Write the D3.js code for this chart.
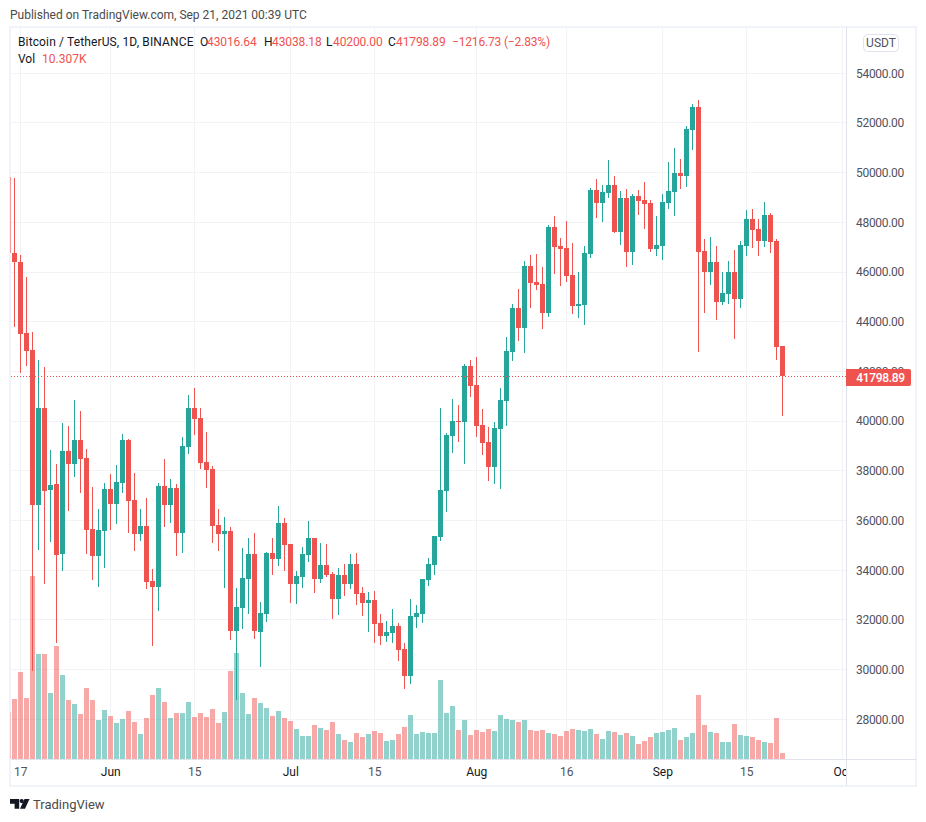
<!DOCTYPE html>
<html><head><meta charset="utf-8">
<script src="https://cdnjs.cloudflare.com/ajax/libs/d3/7.8.5/d3.min.js"></script>
<style>html,body{margin:0;padding:0;background:#fff}svg{display:block}text{font-family:Roboto,sans-serif}</style>
</head><body><div id="c"></div>
<script>
const startDate = "2021-05-15";
const opens = [49829,46770,46408,43550,42866,36627,40531,37231,37472,34654,38801,38277,39243,38519,35661,34574,35581,37271,36667,37513,39243,36828,35460,35782,33568,33327,37392,36627,37311,35500,38962,40531,40129,38358,38076,35822,35460,35581,31556,32481,33649,34654,31516,32240,34695,34453,35903,35057,33447,33729,34614,35299,33649,34212,33850,32844,33810,33447,34252,33085,32682,32803,31878,31354,31475,31757,30831,29744,32119,32240,33608,34212,35339,37191,39404,40009,39968,42222,41457,39847,39163,38157,39686,40813,42785,44556,43751,46247,45603,45522,44355,47816,47052,46971,45884,44637,44677,46730,49306,48782,49185,49507,47615,48984,46810,49064,48903,48782,46931,47052,48782,49225,49990,49869,51721,52647,46851,46005,46408,44798,45120,46005,44919,47052,48138,47736,47253,48300,47253,43016.64];
const highs = [49829,49789,46690,45804,43590,42464,42181,38841,38277,39928,39807,40853,40410,38881,37352,36466,37513,37875,38237,39485,39284,37915,36466,36909,34051,37513,38479,37674,37472,39364,41055,41336,40531,39565,38197,36466,36144,35742,33286,34896,35299,35500,32723,34735,35299,36587,36104,35057,33971,34937,35983,35299,35098,35057,33930,34091,34252,34654,34695,33327,33125,33166,32240,31958,32441,31878,31073,32844,32602,33649,34494,35379,40531,39525,40894,40652,42302,42464,42584,40491,39767,39968,41336,43389,44717,45321,46448,46690,46730,46206,47897,48259,47374,48058,47173,46005,47052,49387,49749,49507,50513,49869,49266,49346,49145,49306,49628,48903,48259,49145,50433,50996,50554,51882,52767,52928,47333,47414,47052,46005,46448,46891,47253,48501,48541,48138,48823,48380,47333,43038.18];
const lows = [46770,43792,41940,42222,29956,34816,33447,35137,31073,33971,36386,37754,37110,34654,33608,33327,34091,35621,35862,37110,35500,34775,35178,33246,30952,32361,35742,35903,34574,34695,38680,39445,38076,37311,35098,34775,33286,31193,28778,31636,32240,31234,30106,31918,33810,34172,33971,32682,32642,33286,34333,33085,33488,33729,32039,32200,32964,33246,32602,32160,31516,31073,30992,31112,31073,30348,29221,29422,31677,31878,33367,33810,35178,36345,38720,39163,38277,40975,39364,38640,37593,37472,37271,39807,42423,43228,42745,44556,45281,43711,44194,45925,45442,45603,44315,44154,43872,46569,48179,48017,48984,47575,47092,46206,46287,48300,47736,46810,46649,46488,48541,48259,49346,49427,50916,42785,44355,45482,44073,44677,44717,43309,44556,46649,46971,46649,47012,46770,42464,40200];
const closes = [46770,46408,43510,42826,36627,40531,37191,37432,34614,38801,38277,39243,38479,35621,34574,35621,37271,36667,37553,39243,36788,35460,35782,33528,33327,37392,36627,37311,35500,39002,40531,40089,38317,38036,35782,35460,35581,31556,32521,33689,34654,31556,32280,34695,34453,35903,35017,33447,33769,34654,35299,33649,34212,33810,32844,33810,33447,34252,33045,32682,32803,31838,31354,31516,31757,30791,29744,32160,32280,33649,34252,35379,37231,39445,40009,39968,42222,41417,39807,39123,38157,39726,40853,42826,44556,43751,46247,45563,45482,44355,47816,47012,46931,45844,44637,44717,46770,49306,48782,49225,49507,47615,48984,46810,49064,48863,48742,46931,47092,48823,49266,49990,49869,51761,52647,46810,46005,46408,44798,45160,46005,44919,47092,48138,47696,47253,48300,47213,42987,41798.89];
const volumes = [80.7,103.1,149.5,104.8,314.4,180.4,180.4,113.4,194.1,144.3,101.4,94.5,77.3,122,101.4,67,84.2,73.9,61.8,68.7,82.5,63.6,43,70.4,110,122,97.9,70.4,79,79,97.9,72.2,79,72.2,85.9,61.8,80.7,151.2,182.1,113.4,77.3,104.8,96.2,87.6,73.9,82.5,70.4,65.3,51.5,39.5,39.5,58.4,53.3,49.8,63.6,43,32.6,29.2,44.7,37.8,43,48.1,44.7,30.9,32.6,43,55,75.6,43,46.4,44.7,44.7,135.7,79,91.1,49.8,67,41.2,49.8,46.4,51.5,48.1,75.6,68.7,67,63.6,67,49.8,48.1,49.8,44.7,43,39.5,48.1,51.5,49.8,48.1,51.5,43,34.4,48.1,46.4,41.2,44.7,39.5,25.8,30.9,37.8,44.7,46.4,49.8,53.3,32.6,37.8,44.7,110,58.4,46.4,44.7,29.2,29.2,60.1,41.2,39.5,37.8,32.6,29.2,27.5,70.4,10.307];
const priceTicks = [28000,30000,32000,34000,36000,38000,40000,42000,44000,46000,48000,50000,52000,54000];
const timeTickDates = ["2021-05-17","2021-06-01","2021-06-15","2021-07-01","2021-07-15","2021-08-01","2021-08-16","2021-09-01","2021-09-15","2021-10-01"];
const timeTickLabels = ["17","Jun","15","Jul","15","Aug","16","Sep","15","Oct"];

const UP="#26a69a", DOWN="#ef5350", GRID="#f2f3f6", FRAME="#f0f3fa", TXT="#50535e";
const W=926,H=822, L=10,R=846,T=27,B=759;
const day=d3.utcParse("%Y-%m-%d");
const dates=opens.map((_,i)=>d3.utcDay.offset(day(startDate),i));
const x=d3.scaleUtc().domain([day("2021-05-17"),day("2021-10-01")]).range([20.3,842.3]);
const y=d3.scaleLinear().domain([28000,54000]).range([719.3,73.3]);
const v=d3.scaleLinear().domain([0,100]).range([B,B-58.2]);
const svg=d3.select("#c").append("svg").attr("width",W).attr("height",H);
const defs=svg.append("defs");
defs.append("clipPath").attr("id","plot").append("rect").attr("x",L).attr("y",T).attr("width",R-L).attr("height",B-T);
defs.append("clipPath").attr("id","time").append("rect").attr("x",L).attr("y",B).attr("width",R-L).attr("height",28);

// frame
svg.append("rect").attr("x",10).attr("y",27).attr("width",906).attr("height",759).attr("fill","#fff").attr("stroke",FRAME).attr("stroke-width",2);

// grid
const plot=svg.append("g").attr("clip-path","url(#plot)");
plot.append("g").selectAll("line").data(priceTicks).join("line")
 .attr("x1",L).attr("x2",R).attr("y1",d=>Math.floor(y(d))+.5).attr("y2",d=>Math.floor(y(d))+.5).attr("stroke",GRID);
plot.append("g").selectAll("line").data(timeTickDates).join("line")
 .attr("y1",T).attr("y2",B).attr("x1",d=>Math.floor(x(day(d)))+.5).attr("x2",d=>Math.floor(x(day(d)))+.5).attr("stroke",GRID);

const idx=d3.range(opens.length);
const col=i=>closes[i]>=opens[i]?UP:DOWN;
const px=i=>Math.floor(x(dates[i]));
// volume
plot.append("g").selectAll("rect").data(idx).join("rect")
 .attr("x",i=>px(i)-2).attr("width",5)
 .attr("y",i=>Math.round(v(volumes[i]))).attr("height",i=>B-Math.round(v(volumes[i])))
 .attr("fill",col).attr("opacity",.5);
// wicks
plot.append("g").selectAll("rect").data(idx).join("rect")
 .attr("x",i=>px(i)).attr("width",1)
 .attr("y",i=>Math.round(y(highs[i]))).attr("height",i=>Math.round(y(lows[i]))-Math.round(y(highs[i])))
 .attr("fill",col);
// bodies
plot.append("g").selectAll("rect").data(idx).join("rect")
 .attr("x",i=>px(i)-2).attr("width",5)
 .attr("y",i=>Math.round(y(Math.max(opens[i],closes[i]))))
 .attr("height",i=>Math.max(1,Math.round(y(Math.min(opens[i],closes[i])))-Math.round(y(Math.max(opens[i],closes[i])))))
 .attr("fill",col);
// veil over the frame edge column
svg.append("rect").attr("x",10).attr("y",T).attr("width",1).attr("height",B-T).attr("fill",FRAME).attr("opacity",.45);

// last price line
const last=closes[closes.length-1];
const lastY=Math.round(y(last))+.5;
svg.append("line").attr("x1",11).attr("x2",R).attr("y1",lastY).attr("y2",lastY)
 .attr("stroke",DOWN).attr("stroke-dasharray","1 2");

// separators
svg.append("line").attr("x1",R+.5).attr("x2",R+.5).attr("y1",T).attr("y2",786).attr("stroke","#e0e3eb");
svg.append("line").attr("x1",11).attr("x2",916).attr("y1",B+.5).attr("y2",B+.5).attr("stroke","#e0e3eb");

// axes
const yAxis=d3.axisRight(y).tickValues(priceTicks).tickFormat(d3.format(".2f")).tickSize(0).tickPadding(10);
const ga=svg.append("g").attr("transform",`translate(${R},0)`).call(yAxis);
ga.select(".domain").remove();
ga.selectAll("text").attr("font-size",12).attr("font-family","Roboto,sans-serif").attr("letter-spacing",-.3).attr("fill",TXT);
const xAxis=d3.axisBottom(x).tickValues(timeTickDates.map(day)).tickFormat((d,i)=>timeTickLabels[i]).tickSize(0).tickPadding(8);
const gt=svg.append("g").attr("clip-path","url(#time)").append("g").attr("transform",`translate(0,${B})`).call(xAxis);
gt.select(".domain").remove();
gt.selectAll("text").attr("font-size",12).attr("font-family","Roboto,sans-serif")
  .attr("fill",(d,i)=>/^[A-Z]/.test(timeTickLabels[i])?"#131722":TXT);

// last price tag
svg.append("path").attr("d","M846 369h63a2 2 0 0 1 2 2v13a2 2 0 0 1 -2 2h-63z").attr("fill",DOWN);
svg.append("text").attr("x",880.5).attr("y",382).attr("text-anchor","middle").attr("font-size",12).attr("font-weight",500).attr("letter-spacing",-.3).attr("fill","#fff").text(d3.format(".2f")(last));

// USDT button
svg.append("rect").attr("x",863.5).attr("y",34.5).attr("width",35).attr("height",17).attr("rx",4).attr("fill","#fff").attr("stroke","#e0e3eb");
svg.append("text").attr("x",881).attr("y",47).attr("text-anchor","middle").attr("font-size",12).attr("fill",TXT).text("USDT");

// header
svg.append("text").attr("x",10).attr("y",19).attr("font-size",12).attr("fill","#4a4a4a").text("Published on TradingView.com, Sep 21, 2021 00:39 UTC");
const lg=svg.append("g").attr("font-size",12);
const t=(x0,yy,s,f,ls)=>lg.append("text").attr("x",x0).attr("y",yy).attr("fill",f).attr("letter-spacing",ls||0).text(s);
t(18,46,"Bitcoin / TetherUS, 1D, BINANCE","#131722",.13);
[[200,"O",207,"43016.64"],[264,"H",272,"43038.18"],[326,"L",333,"40200.00"],[388,"C",396,"41798.89"]].forEach(a=>{t(a[0],46,a[1],"#131722");t(a[2],46,a[3],DOWN,-.1);});
t(452,46,"−1216.73 (−2.83%)",DOWN,-.17);
t(18,63,"Vol","#131722");
t(42,63,"10.307K",DOWN);

// footer logo
svg.append("path").attr("d","M10 799h9.2v9.7h-4.6v-5h-4.6z").attr("fill","#131722");
svg.append("circle").attr("cx",21.7).attr("cy",801.1).attr("r",2.1).attr("fill","#131722");
svg.append("path").attr("d","M29.5 799l-4.5 9.7h-5l4.5-9.7z").attr("fill","#131722");
svg.append("text").attr("x",33).attr("y",809).attr("font-size",13).attr("fill","#4a4a4a").text("TradingView");
</script></body></html>
